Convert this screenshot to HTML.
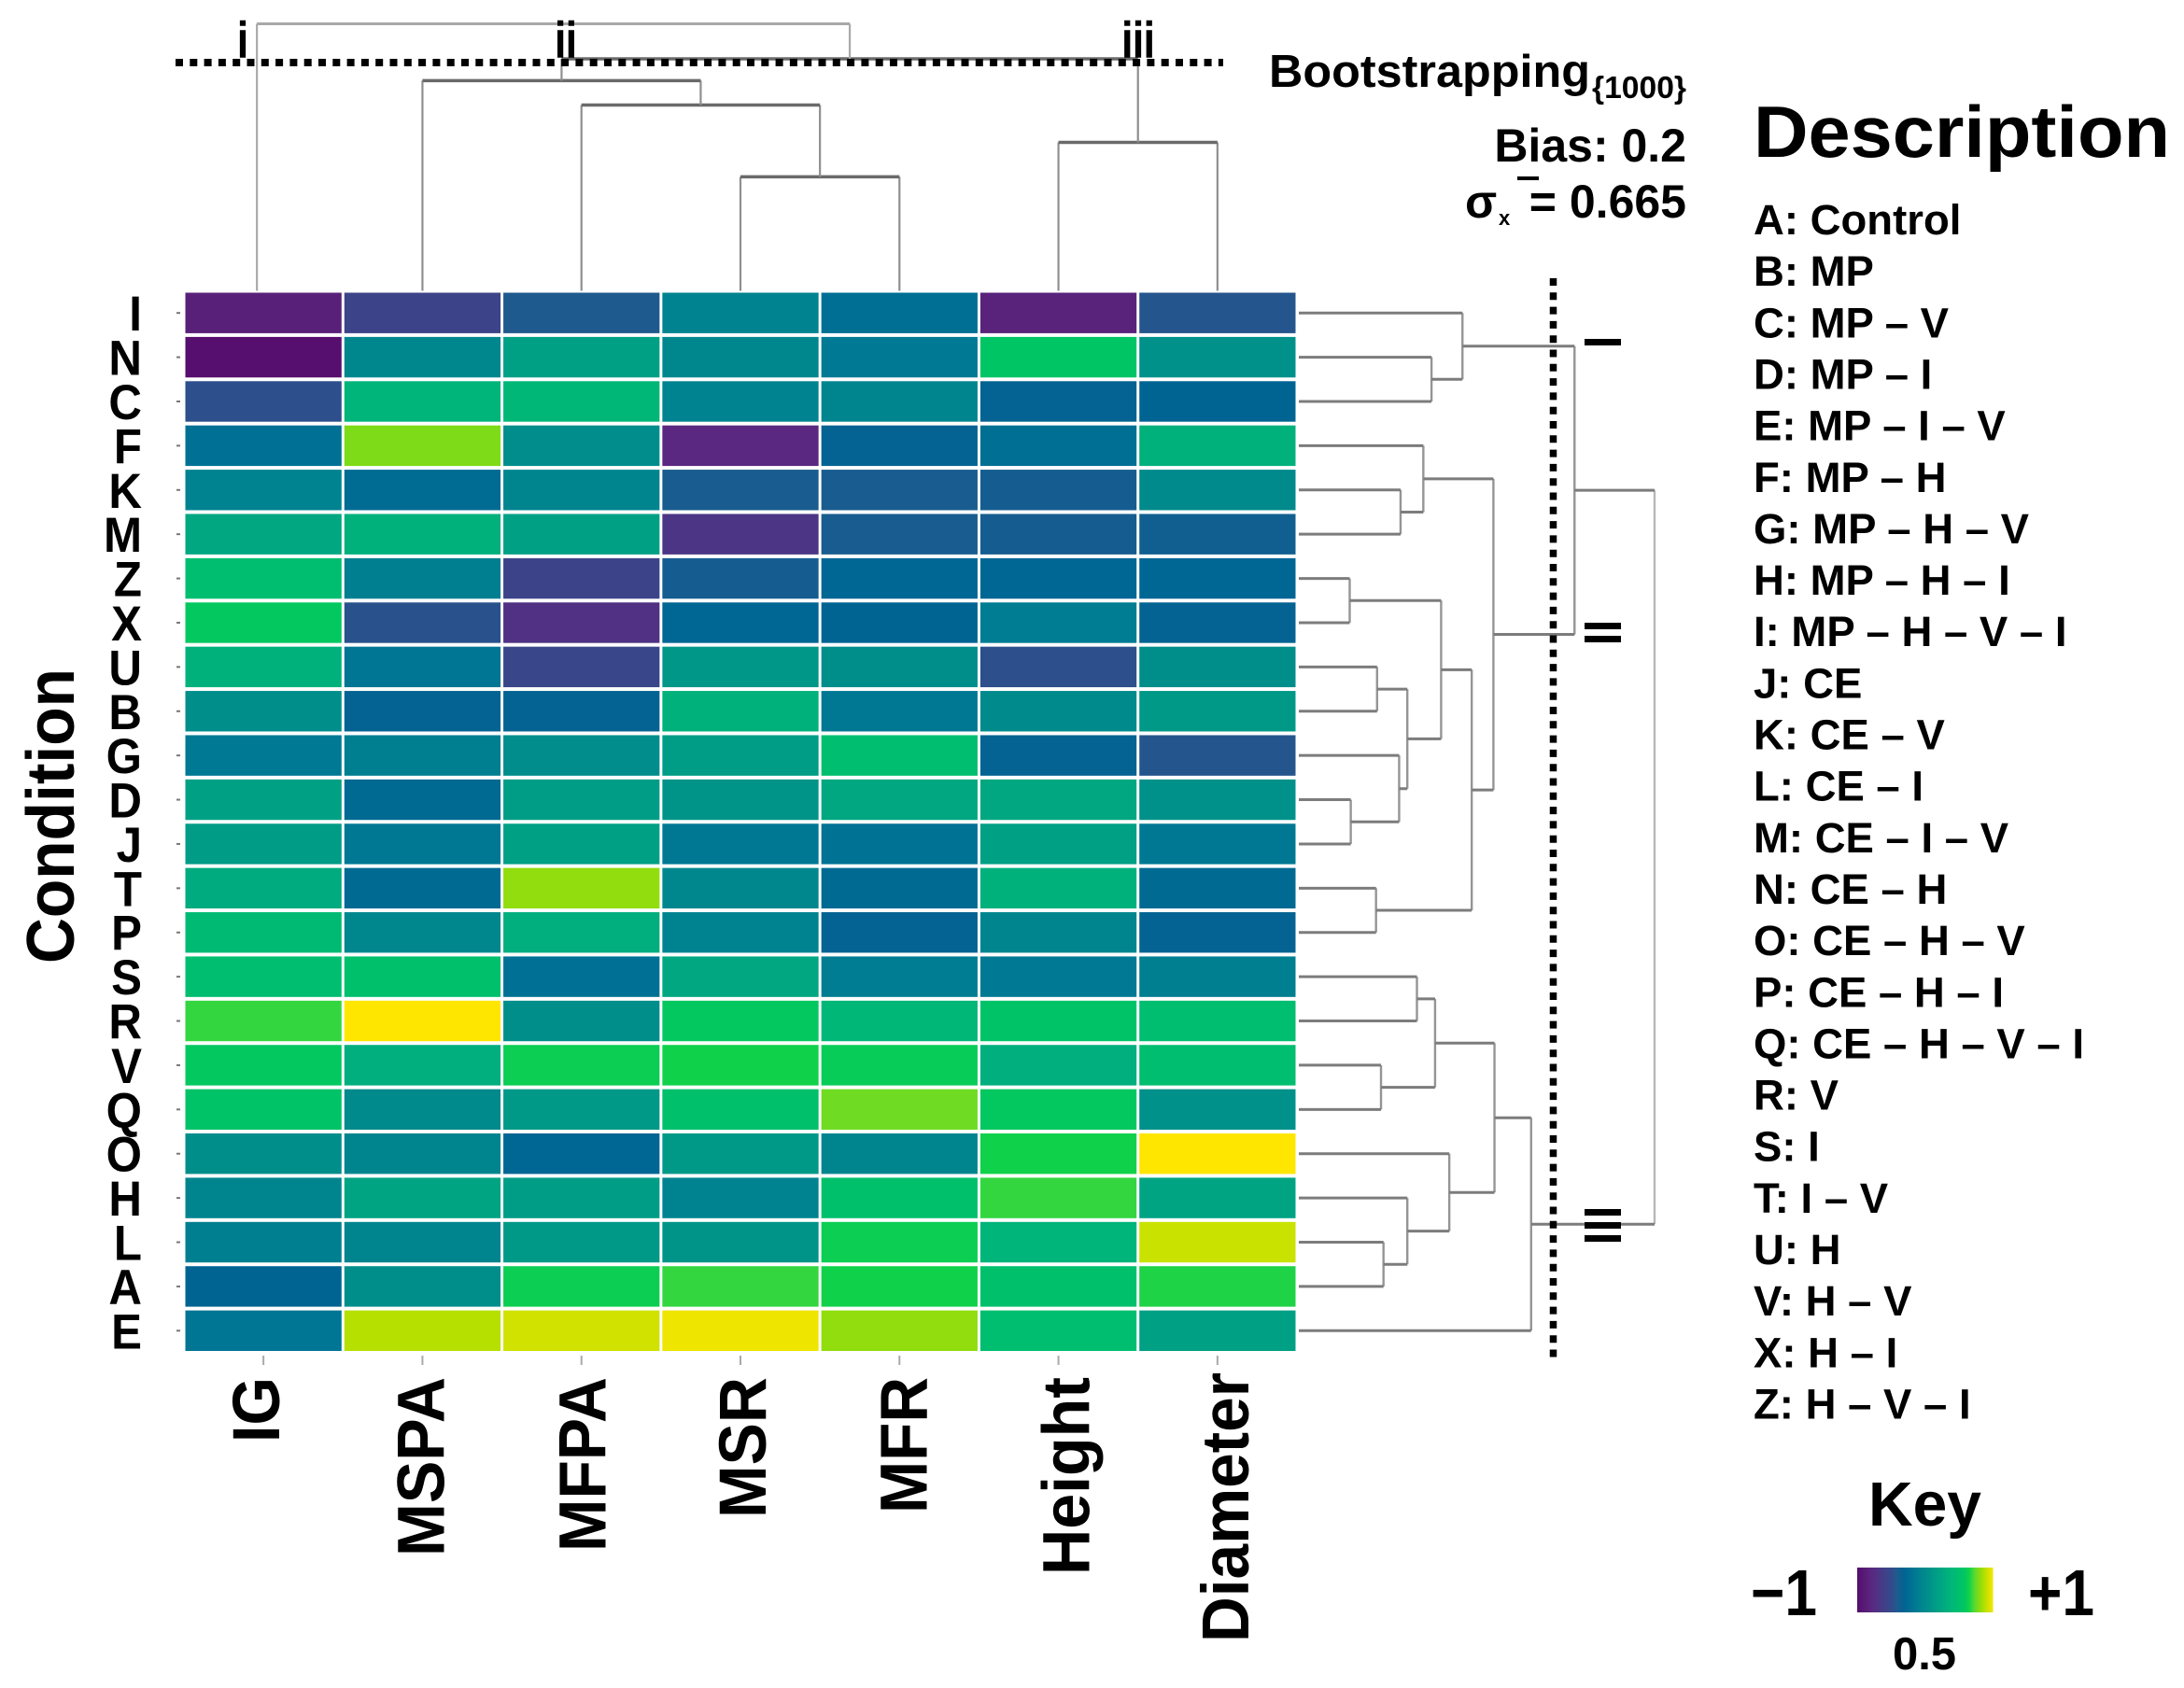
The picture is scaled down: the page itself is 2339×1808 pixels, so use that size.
<!DOCTYPE html>
<html lang="en">
<head>
<meta charset="utf-8">
<title>Heatmap with dendrograms</title>
<style>
html,body{margin:0;padding:0;background:#fff;}
svg{display:block;}
text{font-family:"Liberation Sans",Arial,sans-serif;fill:#000;}
.b{font-weight:700;}
</style>
</head>
<body>
<svg id="chart" xmlns="http://www.w3.org/2000/svg" width="2339" height="1808" viewBox="0 0 2339 1808">
  <rect x="0" y="0" width="2339" height="1808" fill="#fff"/>
  <g id="heat-cells"></g>
  <g id="col-dendro"></g>
  <g id="row-dendro"></g>
  <g id="row-axis"></g>
  <g id="col-axis"></g>

  <line x1="188" y1="67" x2="1310" y2="67" stroke="#000" stroke-width="8" stroke-dasharray="8 7.3"/>
  <line x1="1663.5" y1="298" x2="1663.5" y2="1456" stroke="#000" stroke-width="7.5" stroke-dasharray="8 7.3"/>

  <text x="260" y="61" font-size="53" text-anchor="middle" stroke="#000" stroke-width="1.6">i</text>
  <text x="606" y="61" font-size="53" text-anchor="middle" stroke="#000" stroke-width="1.6">ii</text>
  <text x="1219" y="61" font-size="53" text-anchor="middle" stroke="#000" stroke-width="1.6">iii</text>

  <g fill="#000">
    <rect x="1697" y="363" width="39" height="7"/>
  </g>
  <g fill="#000">
    <rect x="1697" y="667" width="39" height="7"/>
    <rect x="1697" y="681" width="39" height="7"/>
  </g>
  <g fill="#000">
    <rect x="1697" y="1295" width="39" height="7"/>
    <rect x="1697" y="1309" width="39" height="7"/>
    <rect x="1697" y="1323" width="39" height="7"/>
  </g>

  <text class="b" transform="translate(79,874) rotate(-90)" font-size="72" text-anchor="middle" textLength="316" lengthAdjust="spacingAndGlyphs">Condition</text>

  <g>
    <text class="b" x="1359" y="93" font-size="49" textLength="344" lengthAdjust="spacingAndGlyphs">Bootstrapping</text>
    <text class="b" x="1705" y="105" font-size="33" textLength="101" lengthAdjust="spacingAndGlyphs">{1000}</text>
    <text class="b" x="1806" y="173" font-size="50" text-anchor="end">Bias: 0.2</text>
    <text class="b" x="1569" y="233" font-size="50">σ</text>
    <text class="b" x="1605" y="241" font-size="22">x</text>
    <rect x="1625" y="189" width="23" height="4" fill="#000"/>
    <text class="b" x="1806" y="233" font-size="50" text-anchor="end">= 0.665</text>
  </g>

  <text class="b" x="1878" y="168" font-size="78" textLength="446" lengthAdjust="spacingAndGlyphs">Description</text>
  <g id="description-list"></g>

  <g>
    <text class="b" x="2001" y="1634" font-size="67" textLength="121" lengthAdjust="spacingAndGlyphs">Key</text>
    <g id="key-bar"></g>
    <text class="b" x="1875" y="1730" font-size="70" textLength="71" lengthAdjust="spacingAndGlyphs">−1</text>
    <text class="b" x="2172" y="1730" font-size="70" textLength="71" lengthAdjust="spacingAndGlyphs">+1</text>
    <text class="b" x="2061" y="1788" font-size="49" text-anchor="middle">0.5</text>
  </g>
</svg>

<script>
// ---- Categories ----
const rowLabels = ["I","N","C","F","K","M","Z","X","U","B","G","D","J","T","P","S","R","V","Q","O","H","L","A","E"];
const colLabels = ["IG","MSPA","MFPA","MSR","MFR","Height","Diameter"];

// ---- Heatmap series: one array per variable, ordered as rowLabels ----
const igValues       = [-0.90,-1.00,-0.62,-0.28,-0.12, 0.15, 0.33, 0.42, 0.22,-0.02,-0.20, 0.10, 0.07, 0.18, 0.30, 0.33, 0.55, 0.42, 0.38,-0.02,-0.10,-0.15,-0.40,-0.25];
const mspaValues     = [-0.70,-0.08, 0.25, 0.68,-0.33, 0.22,-0.15,-0.60,-0.25,-0.42,-0.15,-0.35,-0.22,-0.35,-0.08, 0.35, 1.00, 0.20,-0.05,-0.10, 0.13,-0.10,-0.02, 0.80];
const mfpaValues     = [-0.55, 0.10, 0.27,-0.03,-0.10, 0.10,-0.70,-0.80,-0.68,-0.42,-0.03, 0.08, 0.10, 0.72, 0.20,-0.28,-0.02, 0.47, 0.05,-0.38, 0.08, 0.05, 0.47, 0.87];
const msrValues      = [-0.12,-0.08,-0.12,-0.85,-0.52,-0.78,-0.50,-0.38, 0.03, 0.22, 0.08, 0.02,-0.22,-0.08,-0.12, 0.15, 0.42, 0.50, 0.35, 0.05,-0.12, 0.02, 0.55, 0.95];
const mfrValues      = [-0.30,-0.20,-0.10,-0.42,-0.52,-0.52,-0.38,-0.40,-0.02,-0.22, 0.33, 0.15,-0.27,-0.35,-0.42,-0.17, 0.27, 0.45, 0.65,-0.10, 0.35, 0.47, 0.50, 0.72];
const heightValues   = [-0.88, 0.40,-0.42,-0.30,-0.50,-0.50,-0.38,-0.18,-0.62,-0.05,-0.42, 0.15, 0.10, 0.22,-0.10,-0.20, 0.38, 0.20, 0.42, 0.50, 0.55, 0.25, 0.35, 0.33];
const diameterValues = [-0.58, 0.00,-0.40, 0.22,-0.05,-0.48,-0.38,-0.42,-0.02, 0.05,-0.58, 0.00,-0.22,-0.35,-0.42,-0.15, 0.33, 0.33, 0.00, 1.00, 0.13, 0.85, 0.52, 0.10];
const heatSeries = [igValues, mspaValues, mfpaValues, msrValues, mfrValues, heightValues, diameterValues];

// ---- Dendrogram merges (negative = leaf number, positive = earlier merge number) ----
const rowMergeLeft   = [-2,-1,-5,-4,-7,-9,-12,-11,6,5,-14,10,4,2,-16,-18,15,-22,-21,-20,17,21,14];
const rowMergeRight  = [-3,1,-6,3,-8,-10,-13,7,8,9,-15,11,12,13,-17,-19,16,-23,18,19,20,-24,22];
const rowMergeHeight = [37.3,46,28.6,35,14.3,22,14.6,28.2,30.5,40,21.7,48.6,54.7,77.5,33.2,23.1,38.3,23.8,30.5,42.3,55,65.3,100];

const colMergeLeft   = [-4,-3,-2,-6,3,-1];
const colMergeRight  = [-5,1,2,-7,4,5];
const colMergeHeight = [42.7,69.6,78.7,55.6,86.9,100];

// ---- Text ----
const descriptionEntries = ["A: Control","B: MP","C: MP – V","D: MP – I","E: MP – I – V","F: MP – H","G: MP – H – V","H: MP – H – I","I: MP – H – V – I","J: CE","K: CE – V","L: CE – I","M: CE – I – V","N: CE – H","O: CE – H – V","P: CE – H – I","Q: CE – H – V – I","R: V","S: I","T: I – V","U: H","V: H – V","X: H – I","Z: H – V – I"];

// ---- Colour scale ----
const paletteValues = [-1,-0.85,-0.7,-0.55,-0.4,-0.2,-0.05,0.1,0.25,0.4,0.5,0.6,0.7,0.8,0.9,1];
const paletteColors = ["#560f6e","#5a2880","#3d4389","#1f5a8e","#006493","#007a94","#008a8c","#00a085","#00b57a","#00c565","#10d24a","#55d935","#88dc10","#b5e000","#dde300","#ffe600"];

const SVGNS = "http://www.w3.org/2000/svg";
function make(tag, parent){
  const el = document.createElementNS(SVGNS, tag);
  parent.appendChild(el);
  return el;
}
function hex(c){ return [1,3,5].map(i => parseInt(c.substr(i,2),16)); }
function colorScale(v){
  const t = Math.max(-1, Math.min(1, v));
  let i = 0;
  while (i < paletteValues.length - 2 && t > paletteValues[i+1]) i++;
  const f = (t - paletteValues[i]) / (paletteValues[i+1] - paletteValues[i]);
  const a = hex(paletteColors[i]), b = hex(paletteColors[i+1]);
  return "rgb(" + a.map((x,k) => Math.round(x + (b[k]-x)*f)).join(",") + ")";
}

// ---- Axis functions ----
const plotLeft = 197, plotRight = 1389, plotTop = 311.5, plotBottom = 1449;
const colBand = (plotRight - plotLeft) / colLabels.length;
const rowBand = (plotBottom - plotTop) / rowLabels.length;
const colLeft = i => plotLeft + i * colBand;
const colCenter = i => colLeft(i) + colBand / 2;
const rowTop = i => plotTop + i * rowBand;
const rowCenter = i => rowTop(i) + rowBand / 2;
const colLeafX = i => colCenter(i) - (i === 0 ? 7 : 0);
const colHeightY = h => plotTop - h * 2.86;
const rowHeightX = h => plotRight + 2 + h * 3.81;

// ---- Heat cells ----
const cellGroup = document.getElementById("heat-cells");
heatSeries.forEach((series, c) => {
  series.forEach((value, r) => {
    const cell = make("rect", cellGroup);
    
    
    cell.setAttribute("x", colLeft(c) + 1.5);
    cell.setAttribute("y", rowTop(r) + 2);
    cell.setAttribute("width", colBand - 3);
    cell.setAttribute("height", rowBand - 4);
    cell.setAttribute("fill", colorScale(value));
  });
});

// ---- Dendrogram layout ----
function layoutMerges(left, right, heights, leafPos){
  const nodes = [];
  const resolve = ref => ref < 0 ? { pos: leafPos(-ref - 1), h: 0 } : nodes[ref - 1];
  left.forEach((ref, i) => {
    const a = resolve(ref), b = resolve(right[i]);
    nodes.push({ pos: (a.pos + b.pos) / 2, h: heights[i], a: a, b: b });
  });
  return nodes;
}

const colNodes = layoutMerges(colMergeLeft, colMergeRight, colMergeHeight, colLeafX);
const colDendro = document.getElementById("col-dendro");
colNodes.forEach((n, i) => {
  const isRoot = i === colNodes.length - 1;
  const y = colHeightY(n.h);
  const stems = make("path", colDendro);
  
  
  stems.setAttribute("d", "M" + n.a.pos + " " + colHeightY(n.a.h) + "V" + y + "M" + n.b.pos + " " + colHeightY(n.b.h) + "V" + y);
  stems.setAttribute("fill", "none");
  stems.setAttribute("stroke", isRoot ? "#aaaaaa" : "#8f8f8f");
  stems.setAttribute("stroke-width", "2.2");
  const bar = make("path", colDendro);
  
  
  bar.setAttribute("d", "M" + n.a.pos + " " + y + "H" + n.b.pos);
  bar.setAttribute("fill", "none");
  bar.setAttribute("stroke", isRoot ? "#a8a8a8" : "#6a6a6a");
  bar.setAttribute("stroke-width", isRoot ? "3" : "3.5");
});

const rowNodes = layoutMerges(rowMergeLeft, rowMergeRight, rowMergeHeight, rowCenter);
const rowDendro = document.getElementById("row-dendro");
rowNodes.forEach((n, i) => {
  const isRoot = i === rowNodes.length - 1;
  const x = rowHeightX(n.h);
  const stem = make("path", rowDendro);
  
  
  stem.setAttribute("d", "M" + x + " " + n.a.pos + "V" + n.b.pos);
  stem.setAttribute("fill", "none");
  stem.setAttribute("stroke", isRoot ? "#b8b8b8" : "#959595");
  stem.setAttribute("stroke-width", "2.4");
  const arms = make("path", rowDendro);
  
  
  arms.setAttribute("d", "M" + rowHeightX(n.a.h) + " " + n.a.pos + "H" + x + "M" + rowHeightX(n.b.h) + " " + n.b.pos + "H" + x);
  arms.setAttribute("fill", "none");
  arms.setAttribute("stroke", "#7c7c7c");
  arms.setAttribute("stroke-width", "3");
});

// ---- Row axis ----
const rowAxis = document.getElementById("row-axis");
rowLabels.forEach((label, r) => {
  const tick = make("line", rowAxis);
  
  
  tick.setAttribute("x1", 189);
  tick.setAttribute("x2", 193);
  tick.setAttribute("y1", rowCenter(r));
  tick.setAttribute("y2", rowCenter(r));
  tick.setAttribute("stroke", "#777");
  tick.setAttribute("stroke-width", "2");
  const t = make("text", rowAxis);
  
  
  t.setAttribute("class", "b");
  t.setAttribute("font-size", "53");
  t.setAttribute("text-anchor", "end");
  t.setAttribute("transform", "translate(152," + (rowCenter(r) + 19) + ") scale(0.93,1)");
  t.textContent = label;
});

// ---- Column axis ----
const colAxis = document.getElementById("col-axis");
function columnLabelNudge(i){ return [17,23,26,27,29,33,33][i]; }
function columnLabelFit(i){ return [70,192,187,151,146,212,289][i]; }
colLabels.forEach((label, c) => {
  const tick = make("line", colAxis);
  
  
  tick.setAttribute("x1", colCenter(c));
  tick.setAttribute("x2", colCenter(c));
  tick.setAttribute("y1", 1452);
  tick.setAttribute("y2", 1462);
  tick.setAttribute("stroke", "#aaa");
  tick.setAttribute("stroke-width", "2");
  const t = make("text", colAxis);
  
  
  t.setAttribute("class", "b");
  t.setAttribute("font-size", "71");
  t.setAttribute("text-anchor", "end");
  t.setAttribute("transform", "translate(" + (colCenter(c) + columnLabelNudge(c)) + "," + (c === 6 ? 1470 : 1475) + ") rotate(-90)");
  t.setAttribute("textLength", columnLabelFit(c));
  t.setAttribute("lengthAdjust", "spacingAndGlyphs");
  t.textContent = label;
});

// ---- Description list ----
const descList = document.getElementById("description-list");
descriptionEntries.forEach((entry, i) => {
  const t = make("text", descList);
  
  
  t.setAttribute("class", "b");
  t.setAttribute("x", 1878);
  t.setAttribute("y", 251 + 55.15 * i);
  t.setAttribute("font-size", "45.5");
  t.textContent = entry;
});

// ---- Colour key ----
const keyBar = document.getElementById("key-bar");
const keyLeft = 1989, keyWidth = 145;
function keyRamp(t){
  const ts = [0, 0.25, 0.35, 0.5, 0.8, 1];
  const vs = [-1, -0.65, -0.4, -0.05, 0.42, 0.95];
  let i = 0;
  while (i < ts.length - 2 && t > ts[i+1]) i++;
  return vs[i] + (vs[i+1] - vs[i]) * (t - ts[i]) / (ts[i+1] - ts[i]);
}
for (let px = 0; px < keyWidth; px++) {
  const seg = make("rect", keyBar);
  
  
  seg.setAttribute("x", keyLeft + px);
  seg.setAttribute("y", 1679);
  seg.setAttribute("width", 1.5);
  seg.setAttribute("height", 48);
  seg.setAttribute("fill", colorScale(keyRamp(px / (keyWidth - 1))));
}
</script>
</body>
</html>
